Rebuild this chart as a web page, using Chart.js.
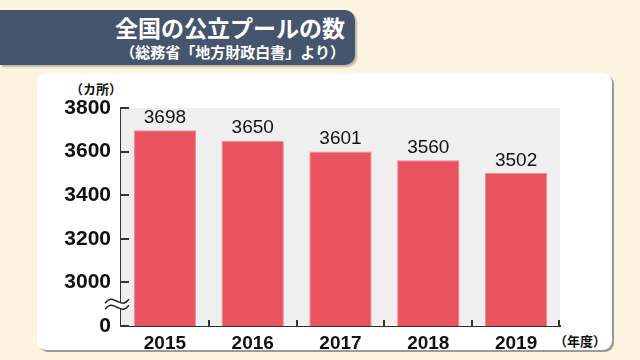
<!DOCTYPE html>
<html lang="ja">
<head>
<meta charset="utf-8">
<script src="https://cdn.jsdelivr.net/npm/chart.js@4/dist/chart.umd.min.js"></script>
<style>
  html, body { margin: 0; padding: 0; }
  body {
    width: 640px; height: 360px; position: relative; overflow: hidden;
    background: #fdf3e1;
    font-family: "Noto Sans CJK JP", "Liberation Sans", sans-serif;
  }
  #banner {
    position: absolute; left: 0; top: 10px; width: 355px; height: 55px;
    background: #45556e; border-radius: 0 10px 10px 0;
    box-shadow: 2px 2px 2px rgba(0,0,0,0.25);
    color: #fff; text-align: right; box-sizing: border-box; padding-right: 10px;
  }
  #title { font-weight: bold; font-size: 23px; line-height: 23px; margin-top: 6px; }
  #subtitle { font-weight: bold; font-size: 15px; line-height: 15px; margin-top: 5px; }
  #card {
    position: absolute; left: 37px; top: 73px; width: 575px; height: 277px;
    background: #fff; border-radius: 9px;
    box-shadow: 2px 2px 0 #9a9a9a;
  }
  .unit { position: absolute; font-weight: bold; font-size: 13px; color: #111; }
  #unitY { left: 70px; top: 79px; }
  #unitX { left: 554px; top: 331px; }
  #wrap { position: absolute; left: 0; top: 0; width: 640px; height: 360px; }
</style>
</head>
<body>
<div id="banner">
  <div id="title">全国の公立プールの数</div>
  <div id="subtitle">（総務省「地方財政白書」より）</div>
</div>
<div id="card"></div>
<div class="unit" id="unitY">（カ所）</div>
<div class="unit" id="unitX">（年度）</div>
<div id="wrap"><canvas id="chart" width="640" height="360"></canvas></div>
<script>
const years = ["2015", "2016", "2017", "2018", "2019"];
const poolCounts = [3698, 3650, 3601, 3560, 3502];
const yTicks = [2800, 3000, 3200, 3400, 3600, 3800];
const yTickLabels = ["0", "3000", "3200", "3400", "3600", "3800"];

// gray plot background, inward ticks, axis break and value labels
const decor = {
  id: "decor",
  beforeDatasetsDraw(chart) {
    const { ctx, chartArea: a } = chart;
    ctx.save();
    ctx.fillStyle = "#efefef";
    ctx.fillRect(a.left, a.top, a.right - a.left, a.bottom - a.top);
    ctx.restore();
  },
  afterDraw(chart) {
    const { ctx, chartArea: a, scales } = chart;
    const y = scales.y;
    ctx.save();
    ctx.strokeStyle = "#333";
    ctx.lineWidth = 2;
    ctx.beginPath();
    yTicks.forEach((v) => {
      const py = Math.round(y.getPixelForValue(v));
      ctx.moveTo(a.left, py);
      ctx.lineTo(a.left + 8, py);
    });
    const step = (a.right - a.left) / years.length;
    for (let i = 1; i <= years.length; i++) {
      const px = Math.round(a.left + step * i) - (i === years.length ? 1 : 0);
      ctx.moveTo(px, a.bottom);
      ctx.lineTo(px, a.bottom - 6);
    }
    ctx.stroke();

    // axis break
    const by = (y.getPixelForValue(2800) + y.getPixelForValue(3000)) / 2;
    const bx0 = a.left - 16, bx1 = a.left + 8;
    ctx.fillStyle = "#fff";
    ctx.beginPath();
    wave(ctx, bx0, bx1, by - 3);
    ctx.lineTo(bx1, by + 3);
    waveBack(ctx, bx0, bx1, by + 3);
    ctx.closePath();
    ctx.fill();
    ctx.lineWidth = 1.5;
    ctx.strokeStyle = "#222";
    ctx.beginPath();
    wave(ctx, bx0, bx1, by - 3);
    ctx.stroke();
    ctx.beginPath();
    wave(ctx, bx0, bx1, by + 3);
    ctx.stroke();

    // value labels
    ctx.fillStyle = "#111";
    ctx.font = "19px 'Liberation Sans', Arial, sans-serif";
    ctx.textAlign = "center";
    ctx.textBaseline = "bottom";
    chart.getDatasetMeta(0).data.forEach((bar, i) => {
      ctx.fillText(poolCounts[i], bar.x, bar.y - 3);
    });
    ctx.restore();
  }
};

function wave(ctx, x0, x1, yc) {
  const w = (x1 - x0) / 2;
  ctx.moveTo(x0, yc + 2);
  ctx.bezierCurveTo(x0 + w * 0.4, yc - 4, x0 + w * 0.6, yc - 2, x0 + w, yc);
  ctx.bezierCurveTo(x0 + w * 1.4, yc + 2, x0 + w * 1.6, yc + 4, x1, yc - 2);
}
function waveBack(ctx, x0, x1, yc) {
  const w = (x1 - x0) / 2;
  ctx.bezierCurveTo(x0 + w * 1.6, yc + 4, x0 + w * 1.4, yc + 2, x0 + w, yc);
  ctx.bezierCurveTo(x0 + w * 0.6, yc - 2, x0 + w * 0.4, yc - 4, x0, yc + 2);
}

new Chart(document.getElementById("chart"), {
  type: "bar",
  data: {
    labels: years,
    datasets: [{
      data: poolCounts,
      backgroundColor: "#e8535f",
      borderColor: "#f08a91",
      borderWidth: 1,
      categoryPercentage: 1,
      barPercentage: 0.71
    }]
  },
  options: {
    responsive: false,
    animation: false,
    layout: { padding: { top: 108, right: 80, left: 0, bottom: 0 } },
    plugins: { legend: { display: false }, tooltip: { enabled: false } },
    scales: {
      x: {
        grid: { display: false, drawTicks: false },
        border: { display: true, color: "#333", width: 2 },
        ticks: {
          color: "#111", padding: 6,
          font: { family: "'Liberation Sans', Arial, sans-serif", size: 19, weight: "bold" }
        },
        afterFit: (s) => { s.height = 34; }
      },
      y: {
        min: 2800, max: 3800,
        grid: { display: false, drawTicks: false },
        border: { display: true, color: "#333", width: 2 },
        afterBuildTicks: (s) => { s.ticks = yTicks.map((v) => ({ value: v })); },
        ticks: {
          color: "#111", padding: 10,
          font: { family: "'Liberation Sans', Arial, sans-serif", size: 21, weight: "bold" },
          callback: (v) => yTickLabels[yTicks.indexOf(v)]
        },
        afterFit: (s) => { s.width = 121; }
      }
    }
  },
  plugins: [decor]
});
</script>
</body>
</html>
